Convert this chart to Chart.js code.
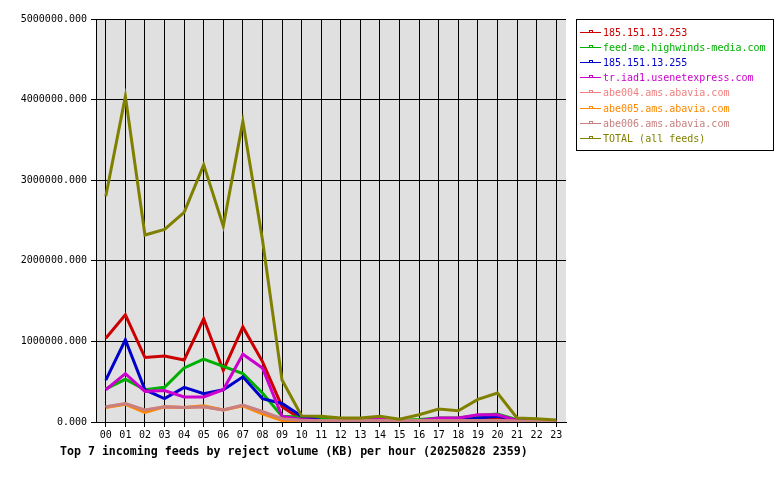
<!DOCTYPE html>
<html>
<head>
<meta charset="utf-8">
<script src="https://cdn.jsdelivr.net/npm/chart.js@4/dist/chart.umd.min.js"></script>
<style>
  body { margin: 0; background: #fff; }
</style>
</head>
<body>
<canvas id="chart" width="780" height="480"></canvas>
<script>
// hourly reject volume (KB) per feed
const hours = ['00','01','02','03','04','05','06','07','08','09','10','11',
               '12','13','14','15','16','17','18','19','20','21','22','23'];

const feedNames = ['185.151.13.253', 'feed-me.highwinds-media.com', '185.151.13.255',
  'tr.iad1.usenetexpress.com', 'abe004.ams.abavia.com', 'abe005.ams.abavia.com',
  'abe006.ams.abavia.com', 'TOTAL (all feeds)'];

const feedColors = ['#cc0000', '#00b000', '#0000cc', '#cc00cc',
                    '#f08080', '#ff8800', '#c88080', '#808000'];

const feed253 = [1040000,1330000,800000,820000,770000,1280000,640000,1180000,750000,190000,30000,10000,
                 5000,5000,5000,5000,5000,10000,10000,40000,40000,10000,5000,5000];
const highwinds = [410000,530000,400000,430000,670000,780000,690000,600000,360000,70000,60000,45000,
                   30000,30000,40000,20000,30000,50000,50000,80000,100000,30000,10000,5000];
const feed255 = [520000,1020000,400000,290000,430000,350000,400000,560000,290000,230000,70000,20000,
                 10000,10000,10000,5000,10000,20000,20000,50000,70000,20000,5000,5000];
const usenetexpress = [400000,600000,380000,390000,310000,310000,400000,840000,670000,70000,30000,20000,
                       10000,10000,50000,10000,20000,50000,50000,90000,90000,20000,5000,5000];
const abe004 = [185000,225000,145000,185000,180000,190000,150000,205000,125000,35000,20000,20000,
                20000,20000,20000,20000,20000,20000,20000,20000,20000,10000,5000,3000];
const abe005 = [180000,220000,120000,190000,180000,200000,150000,200000,100000,20000,10000,10000,
                10000,10000,10000,5000,10000,10000,10000,10000,10000,5000,3000,2000];
const abe006 = [190000,230000,150000,190000,180000,190000,150000,210000,130000,40000,20000,20000,
                20000,20000,20000,20000,20000,20000,20000,20000,20000,10000,5000,3000];
const total = [2800000,4040000,2320000,2390000,2600000,3190000,2430000,3730000,2260000,520000,75000,70000,
               50000,50000,70000,35000,90000,160000,140000,280000,360000,50000,40000,25000];

const yTicks = [0, 1000000, 2000000, 3000000, 4000000, 5000000];
const chartTitle = 'Top 7 incoming feeds by reject volume (KB) per hour (20250828 2359)';

const series = [feed253, highwinds, feed255, usenetexpress, abe004, abe005, abe006, total];
const mono = 'DejaVu Sans Mono';

const plotBg = {
  id: 'plotBg',
  beforeDraw(chart) {
    const a = chart.chartArea, ctx = chart.ctx;
    ctx.save();
    ctx.fillStyle = '#e0e0e0';
    ctx.fillRect(a.left, a.top, a.right - a.left, a.bottom - a.top);
    ctx.restore();
  }
};

const boxLegend = {
  id: 'boxLegend',
  afterDraw(chart) {
    const ctx = chart.ctx;
    ctx.save();
    ctx.strokeStyle = '#000';
    ctx.lineWidth = 1;
    ctx.strokeRect(576.5, 19.5, 197, 131);
    ctx.font = '10px "' + mono + '"';
    ctx.textBaseline = 'middle';
    chart.data.datasets.forEach((ds, i) => {
      const y = Math.round(32 + i * 15.1) + 0.5;
      ctx.strokeStyle = ds.borderColor;
      ctx.beginPath();
      ctx.moveTo(580, y);
      ctx.lineTo(601, y);
      ctx.stroke();
      ctx.strokeRect(589.5, y - 2, 3, 2);
      ctx.fillStyle = ds.borderColor;
      ctx.fillText(ds.label, 603, y + 0.5);
    });
    // title under the plot
    ctx.fillStyle = '#000';
    ctx.font = 'bold 11.6px "' + mono + '"';
    ctx.fillText(chartTitle, 60, 452);
    ctx.restore();
  }
};

new Chart(document.getElementById('chart'), {
  type: 'line',
  data: {
    labels: hours,
    datasets: series.map((vals, i) => ({
      label: feedNames[i],
      data: vals,
      borderColor: feedColors[i],
      backgroundColor: feedColors[i],
      borderWidth: 3,
      pointRadius: 0,
      tension: 0,
      fill: false,
      order: series.length - i
    }))
  },
  options: {
    responsive: false,
    animation: false,
    events: [],
    layout: { padding: { left: 0, top: 19, right: 214, bottom: 0 } },
    plugins: {
      legend: { display: false },
      title: { display: false },
      tooltip: { enabled: false }
    },
    scales: {
      x: {
        offset: true,
        afterFit(scale) { scale.height = 58; },
        grid: { color: '#000', lineWidth: 1, tickLength: 5, offset: false },
        border: { color: '#000' },
        ticks: { color: '#000', font: { family: mono, size: 10 }, padding: 2,
                 maxRotation: 0, autoSkip: false }
      },
      y: {
        min: 0,
        max: 5000000,
        afterFit(scale) { scale.width = 96; },
        afterBuildTicks(scale) { scale.ticks = yTicks.map(v => ({ value: v })); },
        grid: { color: '#000', lineWidth: 1, tickLength: 5 },
        border: { color: '#000' },
        ticks: { color: '#000', font: { family: mono, size: 10 }, padding: 4,
                 callback: v => v.toFixed(3) }
      }
    }
  },
  plugins: [plotBg, boxLegend]
});
</script>
</body>
</html>
